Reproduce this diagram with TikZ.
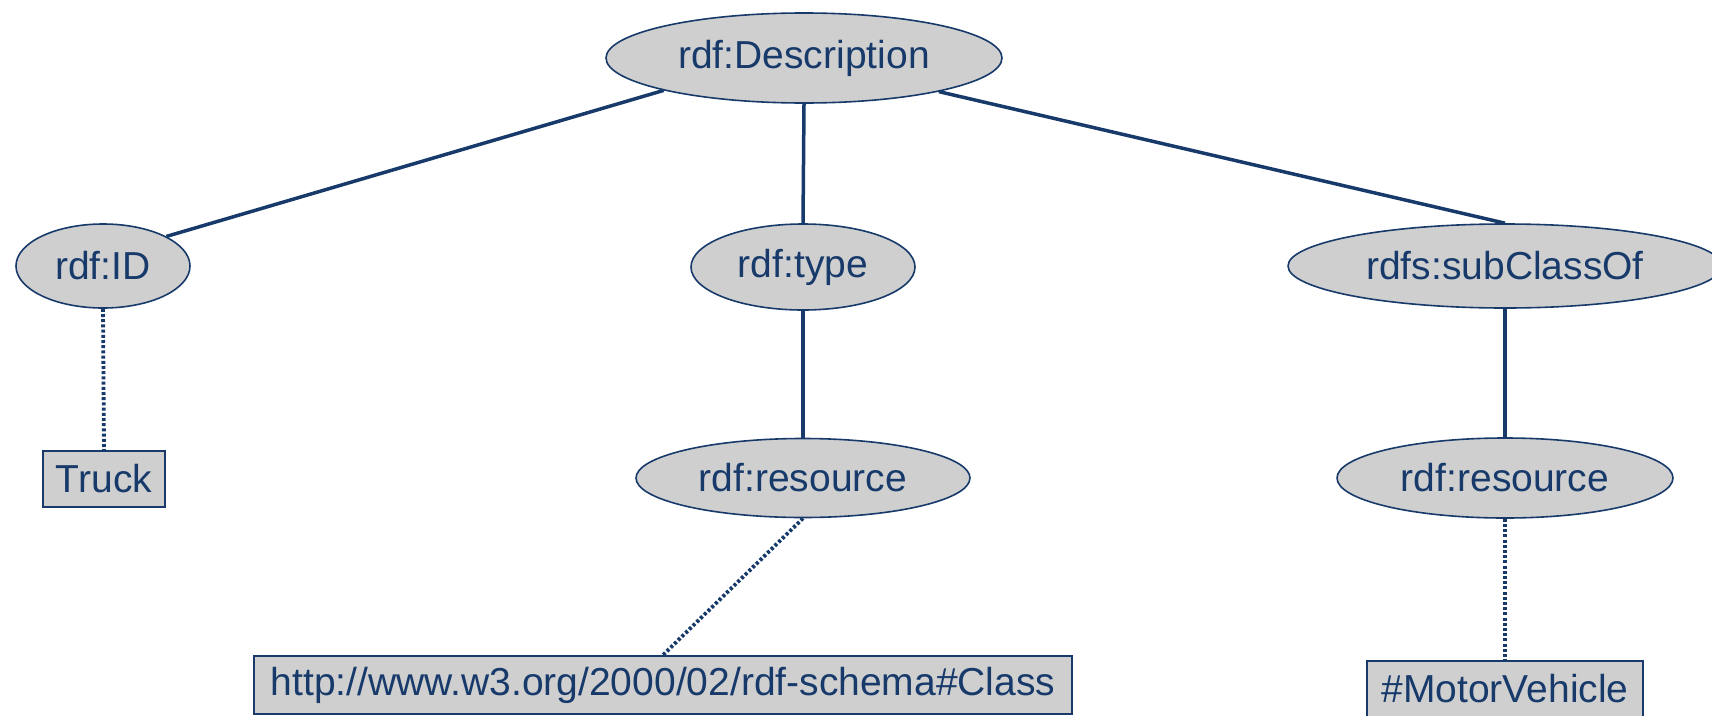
\documentclass[tikz,border=0pt]{standalone}
\usepackage{fontspec}
\setmainfont{Liberation Sans}
\usetikzlibrary{shapes.geometric}
\definecolor{ink}{HTML}{173A6B}
\definecolor{shade}{HTML}{CFCFCF}
\tikzset{
  prop/.style={ellipse, draw=ink, fill=shade, line width=1.6pt, inner sep=0pt,
    text=ink, font=\fontsize{39}{44}\selectfont},
  lit/.style={rectangle, draw=ink, fill=shade, line width=2pt, inner sep=0pt,
    text=ink, font=\fontsize{39}{44}\selectfont},
  link/.style={draw=ink, line width=3.5pt},
  dotlink/.style={draw=ink, line width=3.8pt, dash pattern=on 3pt off 2.2pt}
}
\begin{document}
\begin{tikzpicture}[x=1pt, y=-1pt]
\useasboundingbox (0,0) rectangle (1712,715);

% property nodes
\node[prop, minimum width=396pt, minimum height=90pt] (desc) at (804,58) {rdf:Description};
\node[prop, minimum width=174pt, minimum height=84pt] (id) at (103,266) {rdf:ID};
\node[prop, minimum width=224pt, minimum height=86pt] (type) at (803,267) {rdf:type};
\node[prop, minimum width=434pt, minimum height=84pt] (sub) at (1505,266) {rdfs:subClassOf};
\node[prop, minimum width=334pt, minimum height=79pt] (res1) at (803,478) {rdf:resource};
\node[prop, minimum width=336pt, minimum height=80pt] (res2) at (1505,478) {rdf:resource};

% literal values
\node[lit, minimum width=122pt, minimum height=56pt] (truck) at (104,479) {Truck};
\node[lit, minimum width=818pt, minimum height=58pt] (url) at (663,685) {http://www.w3.org/2000/02/rdf-schema\#Class};
\node[lit, minimum width=276pt, minimum height=56pt] (motor) at (1505,689) {\#MotorVehicle};

% connectors
\draw[link] (desc.193) -- (id.25);
\draw[link] (desc.south) -- (type.north);
\draw[link] (desc.346) -- (sub.north);
\draw[link] (type.south) -- (res1.north);
\draw[link] (sub.south) -- (res2.north);
\draw[dotlink] (id.south) -- (truck.north);
\draw[dotlink] (res1.south) -- (url.north);
\draw[dotlink] (res2.south) -- (motor.north);
\end{tikzpicture}
\end{document}
